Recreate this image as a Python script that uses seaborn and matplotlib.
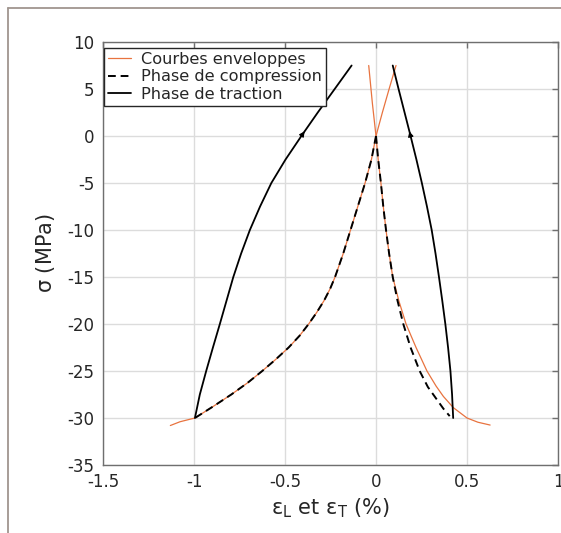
import numpy as np
import pandas as pd
import matplotlib
matplotlib.use("Agg")
import matplotlib.pyplot as plt
import seaborn as sns
from matplotlib.lines import Line2D

# enveloppe longitudinale (eps_L) et transversale (eps_T)
env_L_eps = [-1.13, -1.077, -0.995, -0.893, -0.795, -0.705, -0.625, -0.55, -0.48, -0.42,
             -0.37, -0.325, -0.285, -0.252, -0.225, -0.18, -0.14, -0.10, -0.06, -0.025,
             0.0, 0.035, 0.072, 0.11]
env_L_sig = [-30.8, -30.4, -30.0, -28.75, -27.5, -26.25, -25.0, -23.75, -22.5, -21.25,
             -20.0, -18.75, -17.5, -16.25, -15.0, -12.5, -10.0, -7.5, -5.0, -2.5,
             0.0, 2.5, 5.0, 7.5]
env_T_eps = [-0.04, -0.02, 0.0, 0.012, 0.027, 0.04, 0.055, 0.072, 0.092, 0.125, 0.165,
             0.22, 0.28, 0.33, 0.37, 0.425, 0.5, 0.56, 0.627]
env_T_sig = [7.5, 3.5, 0.0, -2.5, -5.0, -7.5, -10.0, -12.5, -15.0, -17.5, -20.0,
             -22.5, -25.0, -26.6, -27.7, -28.9, -30.0, -30.45, -30.75]

# phase de compression
comp_L_eps = [0.0, -0.025, -0.06, -0.10, -0.14, -0.18, -0.225, -0.252, -0.285, -0.325,
              -0.37, -0.42, -0.48, -0.55, -0.625, -0.705, -0.795, -0.893, -0.995]
comp_L_sig = [0.0, -2.5, -5.0, -7.5, -10.0, -12.5, -15.0, -16.25, -17.5, -18.75,
              -20.0, -21.25, -22.5, -23.75, -25.0, -26.25, -27.5, -28.75, -30.0]
comp_T_eps = [0.0, 0.012, 0.027, 0.04, 0.055, 0.072, 0.092, 0.118, 0.15, 0.19,
              0.24, 0.285, 0.333, 0.37, 0.405]
comp_T_sig = [0.0, -2.5, -5.0, -7.5, -10.0, -12.5, -15.0, -17.5, -20.0, -22.5,
              -25.0, -26.7, -28.0, -29.0, -29.8]

# phase de traction
trac_L_eps = [-0.995, -0.968, -0.933, -0.896, -0.858, -0.821, -0.784, -0.741, -0.693,
              -0.637, -0.575, -0.497, -0.41, -0.32, -0.227, -0.134]
trac_L_sig = [-30.0, -27.5, -25.0, -22.5, -20.0, -17.5, -15.0, -12.5, -10.0,
              -7.5, -5.0, -2.5, 0.0, 2.5, 5.0, 7.5]
trac_T_eps = [0.424, 0.418, 0.409, 0.396, 0.381, 0.364, 0.346, 0.327, 0.306,
              0.28, 0.252, 0.222, 0.19, 0.157, 0.124, 0.092]
trac_T_sig = [-30.0, -27.5, -25.0, -22.5, -20.0, -17.5, -15.0, -12.5, -10.0,
              -7.5, -5.0, -2.5, 0.0, 2.5, 5.0, 7.5]

sns.set_theme(style="whitegrid")
plt.rcParams["font.family"] = ["DejaVu Sans"]

orange = "#e8733f"
grey = "#6f6f6f"

fig = plt.figure(figsize=(5.61, 5.33), dpi=100)
ax = fig.add_axes([103 / 561, 1 - 465 / 533, 455 / 561, 423 / 533])
ax.set_facecolor("white")

def curve(x, y, **kw):
    df = pd.DataFrame({"eps": x, "sig": y})
    sns.lineplot(data=df, x="eps", y="sig", sort=False, estimator=None, ax=ax, **kw)

curve(env_L_eps, env_L_sig, color=orange, lw=0.9)
curve(env_T_eps, env_T_sig, color=orange, lw=0.9)
curve(comp_L_eps, comp_L_sig, color="black", lw=1.4, linestyle=(0, (4, 2.5)))
curve(comp_T_eps, comp_T_sig, color="black", lw=1.4, linestyle=(0, (4, 2.5)))
curve(trac_L_eps, trac_L_sig, color="black", lw=1.3)
curve(trac_T_eps, trac_T_sig, color="black", lw=1.3)

# petites fleches sur les branches de traction (a sigma = 0)
for ex, sy in [(trac_L_eps, trac_L_sig), (trac_T_eps, trac_T_sig)]:
    i = sy.index(0.0)
    x0, y0 = ex[i], sy[i]
    x1, y1 = ex[i + 1], sy[i + 1]
    ax.annotate("", xy=(x0 + 0.2 * (x1 - x0), y0 + 0.2 * (y1 - y0)), xytext=(x0, y0),
                arrowprops=dict(arrowstyle="-|>", color="black", lw=0.8,
                                mutation_scale=8, shrinkA=0, shrinkB=0))

ax.set_xlim(-1.5, 1)
ax.set_ylim(-35, 10)
ax.set_xticks([-1.5, -1, -0.5, 0, 0.5, 1])
ax.set_xticklabels(["-1.5", "-1", "-0.5", "0", "0.5", "1"])
ax.set_yticks(range(-35, 11, 5))
ax.set_yticklabels([str(v) for v in range(-35, 11, 5)])
ax.grid(True, color="#dcdcdc", lw=1)
for s in ax.spines.values():
    s.set_visible(True)
    s.set_color(grey)
    s.set_linewidth(1.0)
ax.tick_params(direction="in", length=4, width=1, color=grey, labelsize=12,
               labelcolor="#262626", top=True, right=True, pad=6)
ax.set_xlabel(r"$\mathrm{\epsilon_L}$ et $\mathrm{\epsilon_T}$ (%)", fontsize=15,
              color="#262626", labelpad=4)
ax.set_ylabel(r"$\mathrm{\sigma}$ (MPa)", fontsize=15, color="#262626", labelpad=8)

handles = [Line2D([], [], color=orange, lw=0.9),
           Line2D([], [], color="black", lw=1.4, linestyle=(0, (4, 2.5))),
           Line2D([], [], color="black", lw=1.3)]
leg = ax.legend(handles, ["Courbes enveloppes", "Phase de compression", "Phase de traction"],
                loc="upper left", bbox_to_anchor=(0.003, 0.986), borderaxespad=0,
                fontsize=11.6, fancybox=False, framealpha=1, edgecolor="#262626",
                handlelength=1.4, handletextpad=0.6, borderpad=0.25, labelspacing=0.15)
leg.get_frame().set_linewidth(1.0)

# cadre exterieur
fig.add_artist(Line2D([8 / 561, 8 / 561], [0, 1 - 8 / 533], color="#a0958f", lw=1.3,
                      transform=fig.transFigure))
fig.add_artist(Line2D([8 / 561, 1], [1 - 8 / 533, 1 - 8 / 533], color="#a0958f", lw=1.3,
                      transform=fig.transFigure))

fig.savefig("out.png", dpi=100)
